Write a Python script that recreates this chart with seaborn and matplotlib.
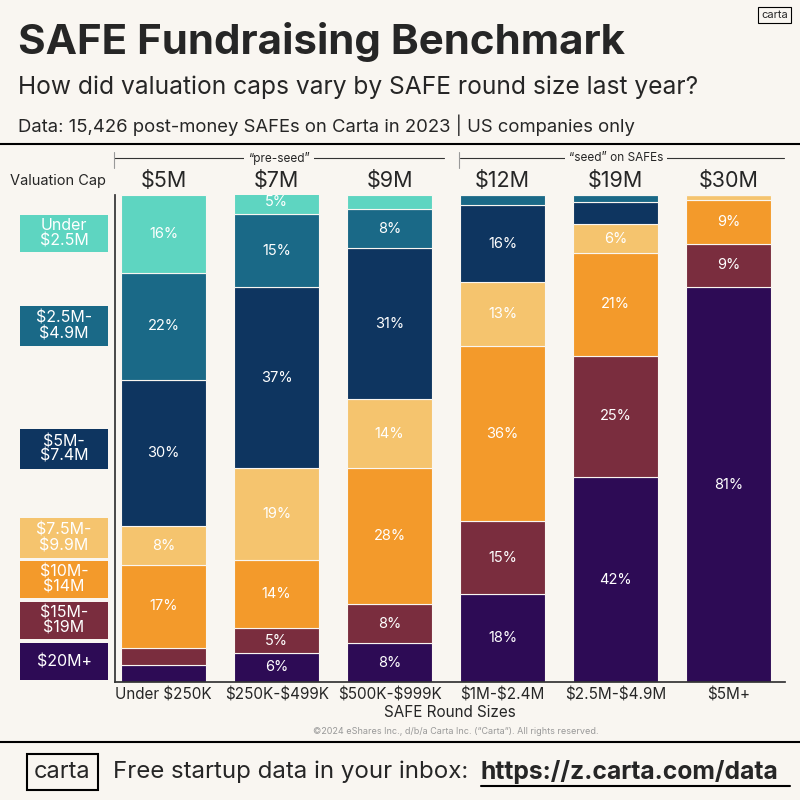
import matplotlib
matplotlib.use("Agg")
import matplotlib.pyplot as plt
import seaborn as sns
import numpy as np
from matplotlib.patches import Rectangle

sns.set_theme(style="white")
plt.rcParams['font.family'] = ['Inter', 'DejaVu Sans']
plt.rcParams['text.parse_math'] = False

rounds = ["Under $250K", "$250K-$499K", "$500K-$999K", "$1M-$2.4M", "$2.5M-$4.9M", "$5M+"]
medians = ["$5M", "$7M", "$9M", "$12M", "$19M", "$30M"]
# bottom-to-top shares per cap bucket
v20 = [3.5, 6, 8, 18, 42, 81]
v15 = [3.5, 5, 8, 15, 25, 9]
v10 = [17, 14, 28, 36, 21, 9]
v75 = [8, 19, 14, 13, 6, 1]
v5 = [30, 37, 31, 16, 4.5, 0]
v25 = [22, 15, 8, 2, 1.5, 0]
vu = [16, 5, 3, 0, 0, 0]
series = [v20, v15, v10, v75, v5, v25, vu]
colors = ["#2d0b55", "#7a2d3e", "#f39a2b", "#f5c46e", "#0e3560", "#1a6987", "#5ed5c1"]

BG = "#f9f6f1"
fig = plt.figure(figsize=(8, 8), dpi=100, facecolor=BG)
ax = fig.add_axes([0.144, 0.1475, 0.837, 0.609], facecolor=BG)

bottom = np.zeros(len(rounds))
for vals, c in zip(series, colors):
    sns.barplot(x=rounds, y=vals, bottom=bottom, color=c, width=0.75, ax=ax,
                edgecolor="#f9f6f1", linewidth=0.8, saturation=1)
    for i, v in enumerate(vals):
        if v >= 5:
            ax.text(i, bottom[i] + v / 2, f"{int(round(v))}%", ha="center", va="center",
                    color="white", fontsize=10.5)
    bottom = bottom + np.array(vals)

ax.set_ylim(0, 100)
ax.set_xlim(-0.43, 5.5)
ax.set_yticks([])
for s in ["top", "right"]:
    ax.spines[s].set_visible(False)
ax.spines["left"].set_color("#333333")
ax.spines["bottom"].set_color("#333333")
ax.tick_params(axis="x", labelsize=11, length=0, pad=4)
ax.set_xlabel("SAFE Round Sizes", fontsize=11, labelpad=2)
ax.set_ylabel("")
for i, m in enumerate(medians):
    ax.text(i, 102.8, m, ha="center", va="center", fontsize=15.5, clip_on=False, zorder=5)

# titles
fig.text(0.022, 0.948, "SAFE Fundraising Benchmark", fontsize=30.3, fontweight="bold", va="center")
fig.text(0.022, 0.891, "How did valuation caps vary by SAFE round size last year?", fontsize=17.7, va="center")
fig.text(0.022, 0.844, "Data: 15,426 post-money SAFEs on Carta in 2023 | US companies only", fontsize=13.3, va="center")
fig.text(0.968, 0.981, "carta", fontsize=8, ha="center", va="center",
         bbox=dict(boxstyle="square,pad=0.25", fc=BG, ec="black", lw=0.8))
fig.add_artist(plt.Line2D([0, 1], [0.82, 0.82], color="black", lw=1.5))

# group headers
fig.add_artist(plt.Line2D([0.143, 0.555], [0.802, 0.802], color="#333", lw=0.8))
fig.add_artist(plt.Line2D([0.142, 0.142], [0.79, 0.81], color="#999", lw=0.8))
fig.add_artist(plt.Line2D([0.575, 0.98], [0.802, 0.802], color="#333", lw=0.8))
fig.add_artist(plt.Line2D([0.574, 0.574], [0.79, 0.81], color="#999", lw=0.8))
fig.text(0.349, 0.802, "\u201cpre-seed\u201d", fontsize=8.5, ha="center", va="center",
         bbox=dict(fc=BG, ec="none", pad=3))
fig.text(0.77, 0.802, "\u201cseed\u201d on SAFEs", fontsize=8.5, ha="center", va="center",
         bbox=dict(fc=BG, ec="none", pad=3))
fig.text(0.073, 0.774, "Valuation Cap", fontsize=10.5, ha="center", va="center")

# legend boxes
leg = [(252, 215, "#5ed5c1", "Under\n$2.5M"), (346, 306, "#1a6987", "$2.5M-\n$4.9M"),
       (469, 429, "#0e3560", "$5M-\n$7.4M"), (558, 518, "#f5c46e", "$7.5M-\n$9.9M"),
       (598, 561, "#f39a2b", "$10M-\n$14M"), (639, 602, "#7a2d3e", "$15M-\n$19M"),
       (680, 643, "#2d0b55", "$20M+")]
for y1, y0, c, t in leg:
    fig.add_artist(Rectangle((20 / 800, 1 - y1 / 800), 88 / 800, (y1 - y0) / 800,
                             transform=fig.transFigure, fc=c, ec="none"))
    fig.text(64 / 800, 1 - (y0 + y1) / 1600, t, color="white", fontsize=11.5, ha="center",
             va="center", linespacing=1.0)

fig.text(0.57, 0.086, "\u00a92024 eShares Inc., d/b/a Carta Inc. (\u201cCarta\u201d). All rights reserved.",
         fontsize=6.5, color="#999", ha="center", va="center")
fig.add_artist(plt.Line2D([0, 1], [0.072, 0.072], color="black", lw=1.5))
fig.text(0.078, 0.035, "carta", fontsize=17, ha="center", va="center",
         bbox=dict(boxstyle="square,pad=0.3", fc=BG, ec="black", lw=1.5))
fig.text(0.141, 0.035, "Free startup data in your inbox:", fontsize=17.3, va="center")
fig.text(0.601, 0.035, "https://z.carta.com/data", fontsize=17.8, fontweight="bold",
         va="center", ha="left")
fig.add_artist(plt.Line2D([0.601, 0.988], [0.017, 0.017], color="black", lw=1.5))

fig.savefig("out.png", dpi=100, facecolor=BG)
